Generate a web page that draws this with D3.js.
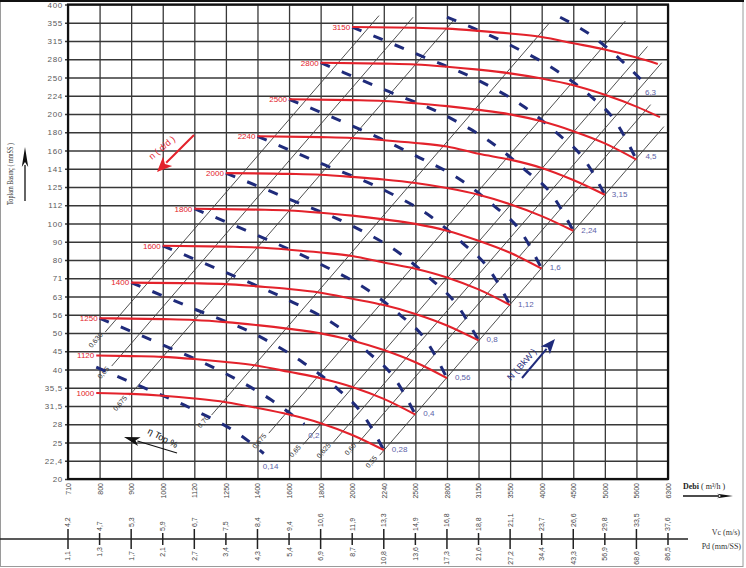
<!DOCTYPE html>
<html><head><meta charset="utf-8">
<script src="https://cdn.jsdelivr.net/npm/d3@7"></script>
<style>body{margin:0;background:#fff;} svg{display:block;}</style>
</head><body>
<svg id="chart" width="746" height="568"></svg>
<script>
// ---------------- DATA ----------------
const flowTicks = [710,800,900,1000,1120,1250,1400,1600,1800,2000,2240,2500,2800,3150,3550,4000,4500,5000,5600,6300];
const flowLabels = ["710","800","900","1000","1120","1250","1400","1600","1800","2000","2240","2500","2800","3150","3550","4000","4500","5000","5600","6300"];
const pressureTicks = [20,22.4,25,28,31.5,35.5,40,45,50,56,63,71,80,90,100,112,125,141,160,180,200,224,250,280,315,355,400];
const pressureLabels = ["20","22,4","25","28","31,5","35,5","40","45","50","56","63","71","80","90","100","112","125","141","160","180","200","224","250","280","315","355","400"];
const vcLabels = ["4,2","4,7","5,3","5,9","6,7","7,5","8,4","9,4","10,6","11,9","13,3","14,9","16,8","18,8","21,1","23,7","26,6","29,8","33,5","37,6"];
const pdLabels = ["1,1","1,3","1,7","2,1","2,7","3,4","4,3","5,4","6,9","8,7","10,8","13,6","17,3","21,6","27,2","34,4","43,3","56,9","68,6","86,5"];

// fan speed curves (rpm) : [Q m3/h, P mmSS]
const speeds = ["1000","1120","1250","1400","1600","1800","2000","2240","2500","2800","3150"];
const speedCurves = [
  [[790,34.3],[900,34.1],[1000,33.7],[1120,33.1],[1250,32.3],[1400,31.1],[1600,29.8],[1800,28.2],[2000,26.2],[2240,23.9]],
  [[790,43.8],[900,43.6],[1000,43.4],[1120,42.8],[1250,42.0],[1400,41.0],[1600,39.4],[1800,37.8],[2000,35.7],[2240,33.0],[2500,29.8]],
  [[800,54.8],[1000,54.5],[1120,54.2],[1250,53.5],[1400,52.5],[1600,51.3],[1800,49.9],[2000,47.9],[2240,45.3],[2500,41.9],[2800,37.8]],
  [[900,69.0],[1120,68.7],[1250,68.3],[1400,67.3],[1600,66.2],[1800,64.6],[2000,62.1],[2240,59.6],[2500,56.3],[2800,52.4],[3150,47.9]],
  [[1000,87.7],[1250,87.2],[1400,86.7],[1600,85.5],[1800,84.0],[2000,82.1],[2240,78.7],[2500,75.6],[2800,71.4],[3150,66.0],[3550,59.6]],
  [[1120,109.6],[1400,109.0],[1600,108.4],[1800,106.9],[2000,105.0],[2240,102.6],[2500,99.8],[2800,95.9],[3150,90.5],[3550,83.8],[4000,75.6]],
  [[1250,137.0],[1600,136.3],[1800,135.5],[2000,133.6],[2240,131.3],[2500,128.3],[2800,124.2],[3150,119.3],[3550,112.7],[4000,104.7],[4500,95.9]],
  [[1400,175.4],[1800,174.4],[2000,173.4],[2240,171.0],[2500,168.0],[2800,164.2],[3150,156.4],[3550,150.2],[4000,141.8],[4500,130.9],[5000,119.3]],
  [[1600,219.2],[2000,218.0],[2240,216.8],[2500,213.8],[2800,210.0],[3150,205.2],[3550,199.6],[4000,191.7],[4500,181.1],[5000,167.5],[5600,150.2]],
  [[1800,274],[2240,272.5],[2500,271],[2800,267.3],[3150,262.5],[3550,256.5],[4000,248.4],[4500,238.6],[5000,225.3],[5600,209.4],[6115,196.4]],
  [[2000,345.2],[2500,343.4],[2800,341.5],[3150,336.7],[3550,330.8],[4000,323.2],[4500,310.5],[5000,298.2],[5600,283],[6065,272]]
];

// efficiency lines (η top)
const effLabels = ["0,630","0,65","0,675","0,70","0,675","0,65","0,625","0,60","0,55"];
const effLines = [
  [[817,50.3],[2202,372]],
  [[837,40.9],[2480,368]],
  [[895,33.8],[2884,364]],
  [[1189,29.7],[4120,355]],
  [[1469,26.5],[5382,359]],
  [[1687,24.7],[5835,304]],
  [[1877,25.0],[6155,274]],
  [[2046,25.0],[5905,212]],
  [[2207,23.15],[6205,186]]
];

// power lines (kW)
const powerLabels = ["0,14","0,2","0,28","0,4","0,56","0,8","1,12","1,6","2,24","3,15","4,5","6,3"];
const powerLines = [
  [[790,40.6],[900,36.8],[1120,30.7],[1324,26.0],[1438,23.4]],
  [[800,54.8],[1000,46.7],[1250,38.9],[1483,32.8],[1694,28.0]],
  [[900,69.0],[1120,58.1],[1400,49.3],[1694,41.6],[1906,35.2],[2070,30.1],[2240,23.9]],
  [[1000,87.7],[1250,73.7],[1600,61.4],[1906,52.05],[2118,44.7],[2318,38.1],[2500,29.8]],
  [[1120,109.6],[1400,93.4],[1800,77.8],[2118,65.6],[2372,55.9],[2588,48.3],[2800,37.8]],
  [[1250,137.0],[1600,116.3],[2000,98.6],[2372,83.3],[2648,70.4],[2898,60.1],[3150,47.9]],
  [[1400,175.4],[1800,146.4],[2240,122.8],[2648,104.1],[2965,89.4],[3260,76.3],[3550,59.6]],
  [[1600,219.2],[2000,186.8],[2500,154.5],[2965,130.1],[3336,111.8],[3674,96.7],[4000,75.6]],
  [[1800,274],[2240,232.5],[2800,197.3],[3336,166.6],[3759,139.8],[4140,120.3],[4500,95.9]],
  [[2000,345.2],[2500,290.6],[3150,245.5],[3759,208.2],[4236,178.9],[4658,151.4],[5000,119.3]],
  [[2800,368.5],[3550,306.9],[4236,260.3],[4766,223.6],[5175,193.3],[5600,150.2]],
  [[4285,368],[4766,328],[5292,279],[5781,241]]
];

// ---------------- LAYOUT ----------------
const X0 = 68, X1 = 668, Y0 = 479, Y1 = 4.5;
const SANS = "'Liberation Sans', Arial, sans-serif";
const NARROW = "'Liberation Sans Narrow', 'Arial Narrow', 'Liberation Sans', sans-serif";
const SERIF = "'Liberation Serif', 'Times New Roman', serif";
const RED = "#e3222b", NAVY = "#1f2b7b", KWC = "#5c62a8";

const svg = d3.select("#chart");
svg.append("rect").attr("width",746).attr("height",568).attr("fill","#fff");

const x = d3.scaleLog().domain(flowTicks)
  .range(flowTicks.map((d,i)=>X0 + i*(X1-X0)/(flowTicks.length-1)));
const y = d3.scaleLog().domain(pressureTicks)
  .range(pressureTicks.map((d,i)=>Y0 - i*(Y0-Y1)/(pressureTicks.length-1)));

// outer border
svg.append("rect").attr("x",0.5).attr("y",0.5).attr("width",742.5).attr("height",566)
  .attr("fill","none").attr("stroke","#9a9a9a").attr("stroke-width",1);
svg.append("line").attr("x1",0).attr("x2",744).attr("y1",1).attr("y2",1)
  .attr("stroke","#111").attr("stroke-width",2);

// grid + y axis
const gY = svg.append("g").attr("transform",`translate(${X0},0)`)
  .call(d3.axisLeft(y).tickValues(pressureTicks).tickFormat((d,i)=>pressureLabels[i])
    .tickSize(-(X1-X0)).tickPadding(5));
gY.select(".domain").remove();
gY.selectAll(".tick line").attr("x1",-3).attr("stroke","#383838").attr("stroke-width",1.3);
gY.selectAll(".tick text").attr("font-size",8).attr("fill","#5a5a5a")
  .attr("letter-spacing","0.7px").attr("font-family",SANS);

const gX = svg.append("g").attr("transform",`translate(0,${Y0})`)
  .call(d3.axisBottom(x).tickValues(flowTicks).tickFormat((d,i)=>flowLabels[i])
    .tickSize(-(Y0-Y1)));
gX.select(".domain").remove();
gX.selectAll(".tick line").attr("stroke","#383838").attr("stroke-width",1.3);
gX.selectAll(".tick text").attr("transform","rotate(-90)").attr("x",-4).attr("y",0)
  .attr("dy","0.35em").attr("text-anchor","end").attr("font-size",7)
  .attr("fill","#444").attr("font-family",NARROW);

// frame
svg.append("rect").attr("x",X0).attr("y",Y1).attr("width",X1-X0).attr("height",Y0-Y1)
  .attr("fill","none").attr("stroke","#111").attr("stroke-width",2.2);

const plot = svg.append("g");
const line = d3.line().x(d=>x(d[0])).y(d=>y(d[1]));
const smooth = d3.line().x(d=>x(d[0])).y(d=>y(d[1])).curve(d3.curveMonotoneX);

// efficiency lines
const effAngle = Math.atan2(y(pressureTicks[2])-y(pressureTicks[0]), x(flowTicks[1])-x(flowTicks[0]))*180/Math.PI;
plot.selectAll(".eff").data(effLines).join("path")
  .attr("d",line).attr("fill","none").attr("stroke","#3c3c3c").attr("stroke-width",0.9);
plot.selectAll(".effl").data(effLines).join("text")
  .attr("transform",d=>`translate(${x(d[0][0])-2},${y(d[0][1])+3}) rotate(${effAngle})`)
  .attr("text-anchor","end").attr("font-size",7).attr("fill","#333").attr("font-family",SANS)
  .text((d,i)=>effLabels[i]);

// power dashed lines
plot.selectAll(".pw").data(powerLines).join("path")
  .attr("d",smooth).attr("fill","none").attr("stroke",NAVY).attr("stroke-width",3)
  .attr("stroke-dasharray","10,13");

// speed curves
plot.selectAll(".sp").data(speedCurves).join("path")
  .attr("d",smooth).attr("fill","none").attr("stroke",RED).attr("stroke-width",2.1);
plot.selectAll(".spl").data(speedCurves).join("text")
  .attr("x",d=>x(d[0][0])-2).attr("y",d=>y(d[0][1])).attr("dy","0.35em")
  .attr("text-anchor","end").attr("font-size",8).attr("fill",RED).attr("font-family",SANS)
  .text((d,i)=>speeds[i]);

// power labels
const kwOff = [[-1,13],[4,11],[8,-1],[8,-1],[8,-1],[8,-1],[8,-1],[8,-1],[8,-1],[7,-1],[9,-3],[0,9]];
plot.selectAll(".pwl").data(powerLines).join("text")
  .attr("x",(d,i)=>x(d[d.length-1][0])+kwOff[i][0])
  .attr("y",(d,i)=>y(d[d.length-1][1])+kwOff[i][1]).attr("dy","0.35em")
  .attr("font-size",8).attr("fill",KWC).attr("font-family",SANS)
  .text((d,i)=>powerLabels[i]);

// arrows helper
function arrow(g, x1,y1,x2,y2,color,len,hw,sw){
  const dx=x2-x1, dy=y2-y1, L=Math.hypot(dx,dy), ux=dx/L, uy=dy/L;
  const bx=x2-ux*len, by=y2-uy*len;
  g.append("line").attr("x1",x1).attr("y1",y1).attr("x2",bx+ux*2).attr("y2",by+uy*2)
    .attr("stroke",color).attr("stroke-width",sw);
  g.append("path").attr("d",`M${x2},${y2}L${bx-uy*hw},${by+ux*hw}L${bx+ux*len*0.25},${by+uy*len*0.25}L${bx+uy*hw},${by-ux*hw}Z`)
    .attr("fill",color);
}
const ann = svg.append("g");
// n (d/d)
arrow(ann,194,135,157,172,RED,15,6.5,2);
ann.append("text").attr("transform","translate(152,160) rotate(-40)")
  .attr("font-size",9).attr("fill",RED).attr("font-family",SANS).text("n ( d/d )");
// η top
arrow(ann,177,453,124,437,"#111",16,4.5,1.2);
ann.append("text").attr("transform","translate(147,433) rotate(28)")
  .attr("font-size",9).attr("fill","#111").attr("font-family",SANS).text("η Top %");
// N (BkW)
arrow(ann,522,378,555,339,NAVY,15,6,2);
ann.append("text").attr("transform","translate(511,381) rotate(-48)")
  .attr("font-size",9).attr("fill",NAVY).attr("font-family",SANS).text("N ( BkW )");

// y axis title + arrow
ann.append("text").attr("transform","translate(13,174) rotate(-90)")
  .attr("text-anchor","middle").attr("font-size",8).attr("fill","#333")
  .attr("font-family",SERIF).attr("textLength",62).attr("lengthAdjust","spacingAndGlyphs")
  .text("Toplam Basınç ( mmSS )");
arrow(ann,25,201,25,147,"#111",20,3.2,1.3);

// x axis title + arrow
const dt = ann.append("text").attr("x",683).attr("y",489).attr("font-size",8)
  .attr("fill","#222").attr("font-family",SERIF);
dt.append("tspan").attr("font-weight","bold").text("Debi");
dt.append("tspan").text(" ( m³/h )");
arrow(ann,683,496,733,496,"#111",16,2.2,1.3);

// lower Vc / Pd axis
const AY = 539;
ann.append("line").attr("x1",0).attr("x2",688).attr("y1",AY).attr("y2",AY)
  .attr("stroke","#222").attr("stroke-width",1.5);
const low = ann.selectAll(".low").data(flowTicks).join("g")
  .attr("transform",d=>`translate(${x(d)},0)`);
low.append("line").attr("x1",0).attr("x2",0)
  .attr("y1",(d,i)=>i%2===0?AY-10:AY-6).attr("y2",(d,i)=>i%2===0?AY+10:AY+6)
  .attr("stroke","#222").attr("stroke-width",1.5);
low.append("text")
  .attr("transform",(d,i)=>`translate(0,${i%2===0?AY-12:AY-8}) rotate(-90)`)
  .attr("dy","0.35em").attr("text-anchor","start").attr("font-size",7)
  .attr("fill","#444").attr("font-family",NARROW).text((d,i)=>vcLabels[i]);
low.append("text")
  .attr("transform",(d,i)=>`translate(0,${i%2===0?AY+12:AY+8}) rotate(-90)`)
  .attr("dy","0.35em").attr("text-anchor","end").attr("font-size",7)
  .attr("fill","#444").attr("font-family",NARROW).text((d,i)=>pdLabels[i]);
ann.append("text").attr("x",740).attr("y",535).attr("text-anchor","end").attr("font-size",8)
  .attr("fill","#333").attr("font-family",SERIF).text("Vc (m/s)");
ann.append("text").attr("x",741).attr("y",549).attr("text-anchor","end").attr("font-size",8)
  .attr("fill","#333").attr("font-family",SERIF).text("Pd (mm/SS)");
</script>
</body></html>
